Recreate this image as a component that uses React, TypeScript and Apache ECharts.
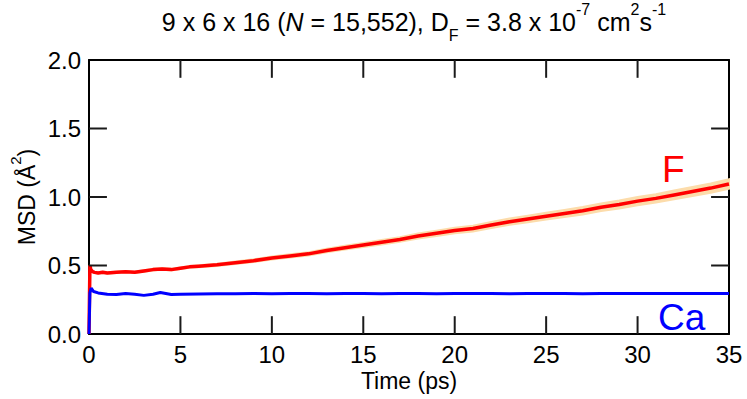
import React, { useEffect, useRef } from "react";
import * as echarts from "echarts";

// Time (ps) grid for F and its values (MSD, Å^2)
const fTime = [0, 0.05, 0.1, 0.2, 0.3, 0.5, 0.75, 1, 1.5, 2, 2.5, 3, 3.5, 4, 4.5, 5, 5.5, 6,
  7, 8, 9, 10, 11, 12, 13, 14, 15, 16, 17, 18, 19, 20, 21, 22, 23, 24, 25, 26, 27, 28, 29, 30, 31, 32, 33, 34, 35];
const fMsd = [0, 0.50, 0.47, 0.455, 0.45, 0.445, 0.45, 0.445, 0.45, 0.455, 0.45, 0.46, 0.47, 0.475, 0.47, 0.48, 0.49, 0.495,
  0.505, 0.52, 0.535, 0.555, 0.57, 0.585, 0.61, 0.63, 0.65, 0.67, 0.69, 0.715, 0.735, 0.755, 0.77, 0.795, 0.82, 0.84, 0.86, 0.88, 0.90, 0.925, 0.945, 0.97, 0.99, 1.015, 1.04, 1.065, 1.095];
// half-width of the uncertainty band around F
const fErr = [0, 0.004, 0.004, 0.004, 0.004, 0.004, 0.004, 0.005, 0.005, 0.005, 0.005, 0.005, 0.006, 0.006, 0.006, 0.006, 0.007, 0.007,
  0.008, 0.009, 0.010, 0.011, 0.012, 0.012, 0.013, 0.014, 0.015, 0.016, 0.017, 0.018, 0.019, 0.020, 0.021, 0.022, 0.023, 0.024, 0.025, 0.026, 0.027, 0.028, 0.029, 0.030, 0.031, 0.032, 0.033, 0.034, 0.035];

const caTime = [0, 0.05, 0.12, 0.25, 0.5, 1, 1.5, 2, 2.5, 3, 3.5, 3.9, 4.5, 5, 6, 7,
  8, 9, 10, 11, 12, 13, 14, 15, 16, 17, 18, 19, 20, 21, 22, 23, 24, 25, 26, 27, 28, 29, 30, 31, 32, 33, 34, 35];
const caMsd = [0, 0.30, 0.335, 0.31, 0.30, 0.29, 0.288, 0.295, 0.29, 0.282, 0.29, 0.303, 0.288, 0.29, 0.292, 0.294,
  0.293, 0.295, 0.294, 0.296, 0.295, 0.294, 0.296, 0.295, 0.294, 0.296, 0.295, 0.294, 0.295, 0.296, 0.295, 0.294, 0.295, 0.296, 0.295, 0.294, 0.295, 0.296, 0.295, 0.295, 0.296, 0.295, 0.296, 0.296];

// inner tick positions (drawn on all four sides, pointing inward)
const xTicks = [5, 10, 15, 20, 25, 30];
const yTicks = [0.5, 1.0, 1.5];
const X_MIN = 0, X_MAX = 35, Y_MIN = 0, Y_MAX = 2;
// tick length expressed in data units (about 18 px on each axis)
const TICK_DX = 0.98;
const TICK_DY = 0.13;

const FONT = "Liberation Sans";

export default function App() {
  const ref = useRef<HTMLDivElement>(null);
  useEffect(() => {
    document.body.style.margin = "0";
    if (!ref.current) return;
    const chart = echarts.init(ref.current, null, { renderer: "svg" });
    const fData = fTime.map((t, i) => [t, fMsd[i]]);
    const caData = caTime.map((t, i) => [t, caMsd[i]]);
    const mkLine = () => ({ show: true, onZero: false, lineStyle: { color: "#000", width: 2 } });

    const tickSeg = (pts: number[][]) => ({
      type: "line", data: pts, showSymbol: false, symbol: "none", silent: true, z: 4,
      lineStyle: { color: "#1a1a1a", width: 2 },
    });
    const tickSeries: any[] = [];
    xTicks.forEach((v) => {
      tickSeries.push(tickSeg([[v, Y_MIN], [v, Y_MIN + TICK_DY]]));
      tickSeries.push(tickSeg([[v, Y_MAX - TICK_DY], [v, Y_MAX]]));
    });
    yTicks.forEach((v) => {
      tickSeries.push(tickSeg([[X_MIN, v], [X_MIN + TICK_DX, v]]));
      tickSeries.push(tickSeg([[X_MAX - TICK_DX, v], [X_MAX, v]]));
    });

    chart.setOption({
      animation: false,
      backgroundColor: "#fff",
      title: {
        left: 409,
        top: -4,
        textAlign: "center",
        text: "{a|9 x 6 x 16 (}{i|N}{a| = 15,552), D}{sub|F}{a| = 3.8 x 10}{sup|-7}{a| cm}{sup|2}{a|s}{sup|-1}",
        textStyle: {
          fontWeight: "normal",
          rich: {
            a: { fontFamily: FONT, fontSize: 25, fontWeight: "normal", color: "#000", lineHeight: 42, verticalAlign: "middle" },
            i: { fontFamily: FONT, fontSize: 25, fontWeight: "normal", fontStyle: "italic", color: "#000", lineHeight: 42, verticalAlign: "middle" },
            sup: { fontFamily: FONT, fontSize: 16, fontWeight: "normal", color: "#000", lineHeight: 17, verticalAlign: "top" },
            sub: { fontFamily: FONT, fontSize: 16, fontWeight: "normal", color: "#000", lineHeight: 19, verticalAlign: "bottom" },
          },
        },
      },
      grid: { left: 89, right: 18, top: 60, bottom: 65, containLabel: false },
      xAxis: [
        {
          type: "value", min: X_MIN, max: X_MAX, interval: 5, position: "bottom",
          axisLine: mkLine(), axisTick: { show: false }, splitLine: { show: false },
          axisLabel: { fontFamily: FONT, fontSize: 24, color: "#000", margin: 8 },
        },
        {
          type: "value", min: X_MIN, max: X_MAX, interval: 5, position: "top",
          axisLine: mkLine(), axisTick: { show: false }, splitLine: { show: false }, axisLabel: { show: false },
        },
      ],
      yAxis: [
        {
          type: "value", min: Y_MIN, max: Y_MAX, interval: 0.5, position: "left",
          axisLine: mkLine(), axisTick: { show: false }, splitLine: { show: false },
          axisLabel: { fontFamily: FONT, fontSize: 24, color: "#000", margin: 8, formatter: (v: number) => v.toFixed(1) },
        },
        {
          type: "value", min: Y_MIN, max: Y_MAX, interval: 0.5, position: "right",
          axisLine: mkLine(), axisTick: { show: false }, splitLine: { show: false }, axisLabel: { show: false },
        },
      ],
      series: [
        {
          type: "custom",
          data: [[0]],
          silent: true,
          z: 1,
          renderItem: (_p: any, api: any) => {
            const upper = fTime.map((t, i) => api.coord([t, fMsd[i] + fErr[i]]));
            const lower = fTime.map((t, i) => api.coord([t, fMsd[i] - fErr[i]])).reverse();
            return {
              type: "polygon",
              shape: { points: upper.concat(lower) },
              style: { fill: "#fcdcab", stroke: "#fcdcab", lineWidth: 2 },
            };
          },
        },
        {
          type: "line", data: fData, showSymbol: false, symbol: "none",
          lineStyle: { color: "#ff0000", width: 3.5 }, z: 3,
        },
        {
          type: "line", data: caData, showSymbol: false, symbol: "none",
          lineStyle: { color: "#0000ff", width: 3 }, z: 3,
        },
        ...tickSeries,
      ],
      graphic: [
        {
          type: "text", x: 409, y: 381,
          style: { text: "Time (ps)", fontFamily: FONT, fontSize: 23, fill: "#000", align: "center", verticalAlign: "middle" },
        },
        {
          type: "text", x: 27, y: 197, rotation: Math.PI / 2,
          style: {
            text: "{a|MSD (Å}{sup|2}{a|)}", align: "center", verticalAlign: "middle",
            rich: {
              a: { fontFamily: FONT, fontSize: 23, fill: "#000", lineHeight: 38, verticalAlign: "middle" },
              sup: { fontFamily: FONT, fontSize: 15, fill: "#000", lineHeight: 14, verticalAlign: "top" },
            },
          },
        },
        {
          type: "text", x: 662, y: 169,
          style: { text: "F", fontFamily: FONT, fontSize: 37, fill: "#ff0000", align: "left", verticalAlign: "middle" },
        },
        {
          type: "text", x: 658, y: 317,
          style: { text: "Ca", fontFamily: FONT, fontSize: 37, fill: "#0000ff", align: "left", verticalAlign: "middle" },
        },
      ],
    });
    return () => chart.dispose();
  }, []);
  return <div ref={ref} style={{ width: 747, height: 399 }} />;
}
